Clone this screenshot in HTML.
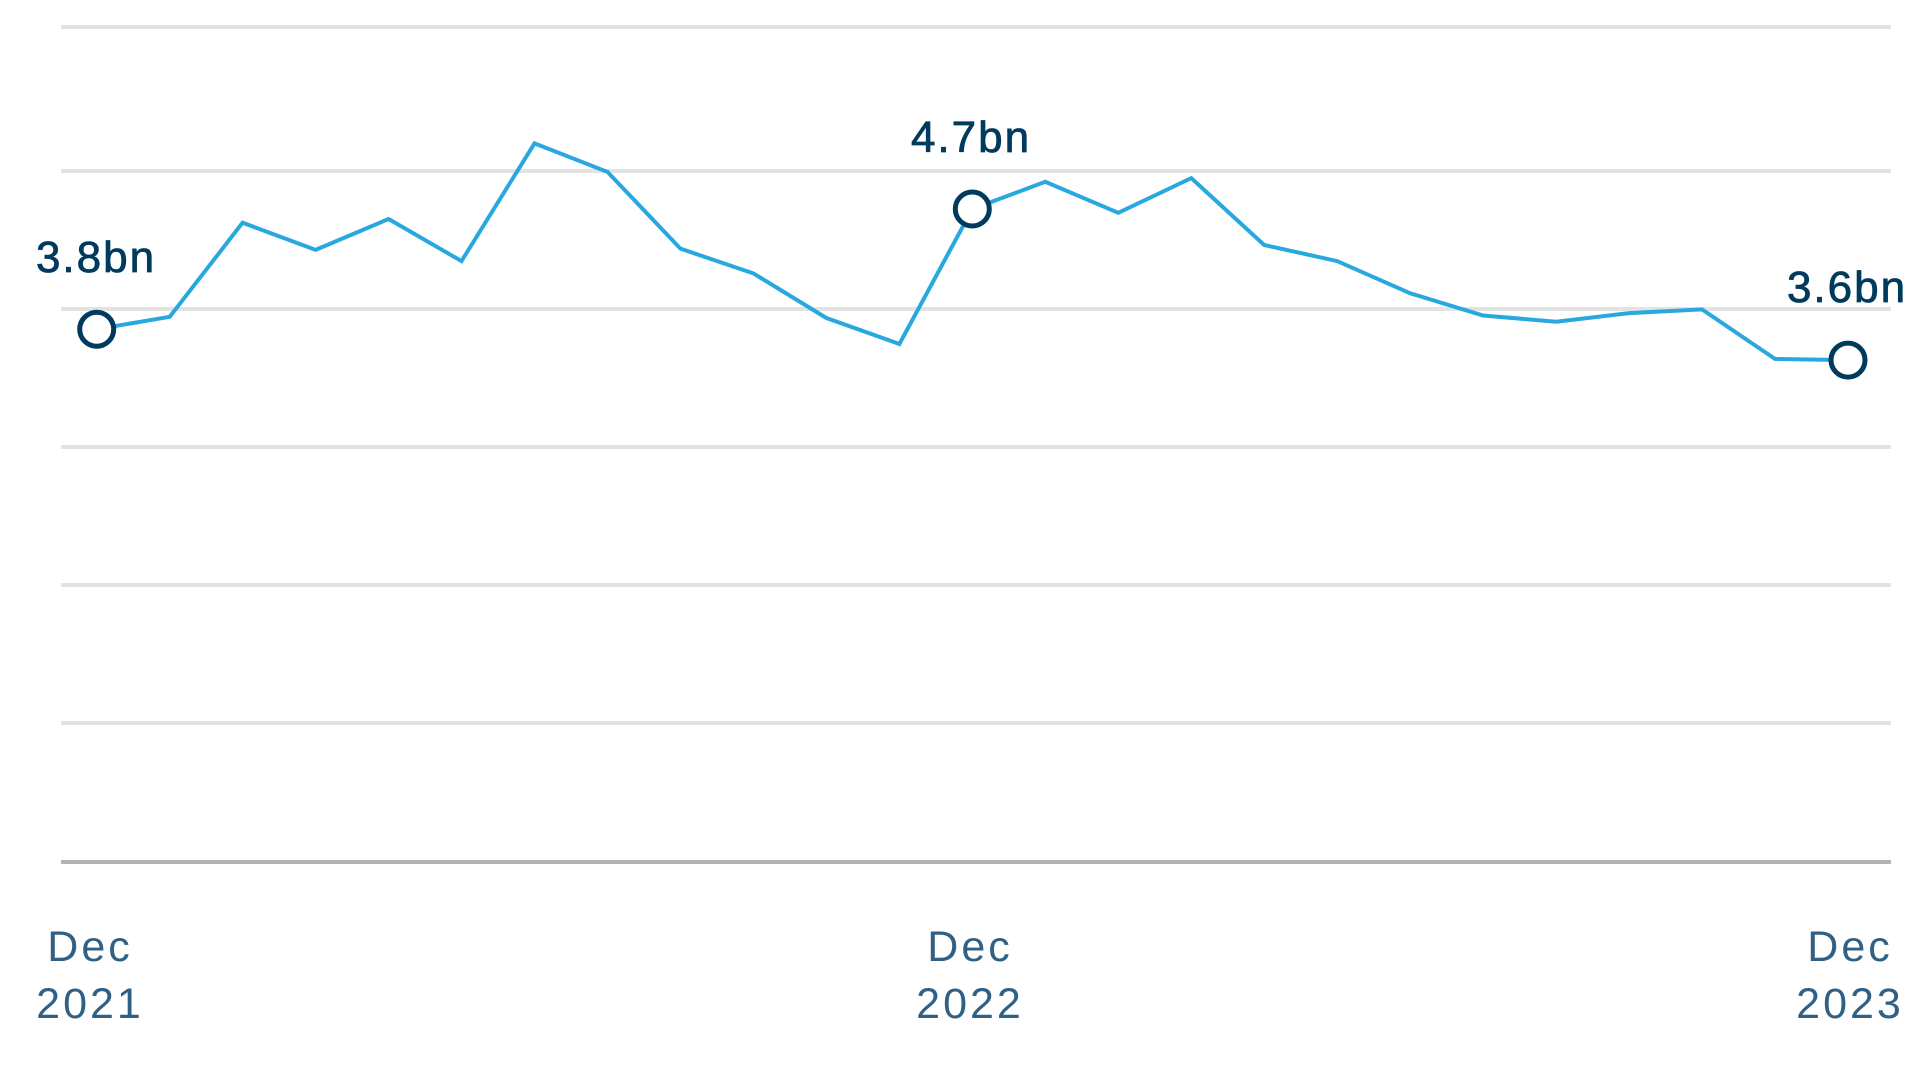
<!DOCTYPE html>
<html><head><meta charset="utf-8"><style>
html,body{margin:0;padding:0;background:#fff;width:1932px;height:1080px;overflow:hidden}
svg{display:block}
</style></head><body>
<svg width="1932" height="1080" viewBox="0 0 1932 1080" xmlns="http://www.w3.org/2000/svg">
<g stroke="#e3e3e3" stroke-width="4">
<line x1="61" y1="27" x2="1891" y2="27"/>
<line x1="61" y1="171" x2="1891" y2="171"/>
<line x1="61" y1="309" x2="1891" y2="309"/>
<line x1="61" y1="447" x2="1891" y2="447"/>
<line x1="61" y1="585" x2="1891" y2="585"/>
<line x1="61" y1="723" x2="1891" y2="723"/>
</g>
<line x1="61" y1="862" x2="1891" y2="862" stroke="#b3b3b3" stroke-width="4"/>
<polyline fill="none" stroke="#29a8e0" stroke-width="4" stroke-linejoin="miter" points="96.7,329.2 169.7,316.8 242.6,222.7 315.6,249.9 388.6,219 461.5,261.1 534.5,143.4 607.5,171.9 680.5,248.7 753.4,273.4 826.4,318 899.4,344 972.3,209 1045.3,181.8 1118.3,212.8 1191.3,178.1 1264.2,245 1337.2,261.1 1410.2,293.3 1483.1,315.5 1556.1,321.7 1629.1,313.1 1702,309.4 1775,358.9 1848,360.1"/>
<g fill="#fff" stroke="#003a5d" stroke-width="5">
<circle cx="96.7" cy="329.2" r="17"/>
<circle cx="972.3" cy="209" r="17"/>
<circle cx="1848" cy="360.1" r="17"/>
</g>
<g font-family="Liberation Sans, sans-serif" font-size="44" fill="#003a5d" text-anchor="middle" letter-spacing="2" stroke="#003a5d" stroke-width="0.8">
<text x="96" y="272">3.8bn</text>
<text x="971" y="152">4.7bn</text>
<text x="1847" y="302">3.6bn</text>
</g>
<g font-family="Liberation Sans, sans-serif" font-size="43" fill="#2f6187" text-anchor="middle" letter-spacing="3">
<text x="90" y="961">Dec</text>
<text x="90" y="1018">2021</text>
<text x="970" y="961">Dec</text>
<text x="970" y="1018">2022</text>
<text x="1850" y="961">Dec</text>
<text x="1850" y="1018">2023</text>
</g>
</svg>
</body></html>
